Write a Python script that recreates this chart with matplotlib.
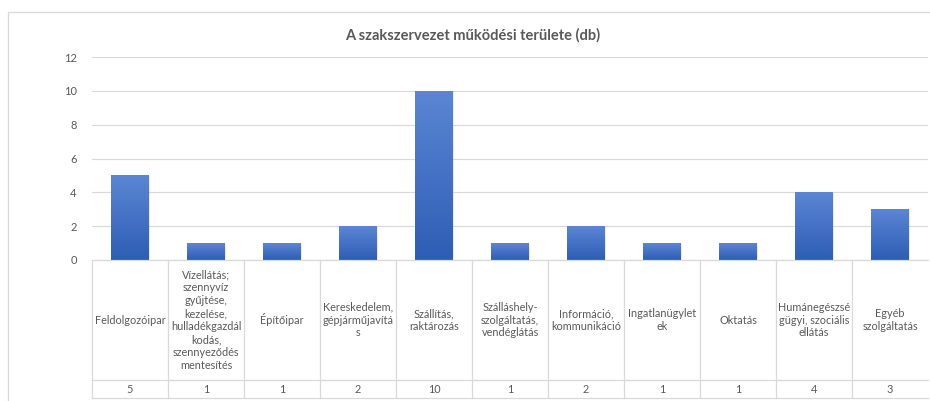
import numpy as np
import matplotlib
matplotlib.use("Agg")
import matplotlib.pyplot as plt
from matplotlib.colors import LinearSegmentedColormap
from matplotlib.patches import Rectangle

plt.rcParams['font.family'] = ['Lato', 'DejaVu Sans']

title = "A szakszervezet működési területe (db)"
categories = [
    "Feldolgozóipar",
    "Vízellátás;\nszennyvíz\ngyűjtése,\nkezelése,\nhulladékgazdál\nkodás,\nszennyeződés\nmentesítés",
    "Építőipar",
    "Kereskedelem,\ngépjárműjavítá\ns",
    "Szállítás,\nraktározás",
    "Szálláshely-\nszolgáltatás,\nvendéglátás",
    "Információ,\nkommunikáció",
    "Ingatlanügylet\nek",
    "Oktatás",
    "Humánegészsé\ngügyi, szociális\nellátás",
    "Egyéb\nszolgáltatás",
]
values = [5, 1, 1, 2, 10, 1, 2, 1, 1, 4, 3]
yticks = [0, 2, 4, 6, 8, 10, 12]

W, H = 930, 401
fig = plt.figure(figsize=(W / 100, H / 100), dpi=100)
fig.patch.set_facecolor('white')

def fx(px):
    return px / W

def fy(py):
    return 1 - py / H

# outer chart frame
fig.add_artist(Rectangle((fx(8), fy(440)), fx(960) - fx(8), fy(12) - fy(440),
                         transform=fig.transFigure, fill=False,
                         edgecolor='#D9D9D9', linewidth=0.9))

left, right = 92, 928
top, base = 57, 260
ax = fig.add_axes([fx(left), fy(base), fx(right) - fx(left), fy(top) - fy(base)])
n = len(values)
x = np.arange(n)
ax.set_xlim(-0.5, n - 0.5)
ax.set_ylim(0, 12)
for s in ax.spines.values():
    s.set_visible(False)
ax.set_yticks(yticks)
ax.set_yticklabels([str(t) for t in yticks], color='#595959', fontsize=8)
ax.tick_params(axis='y', length=0, pad=11)
ax.set_xticks([])
ax.grid(axis='y', color='#D9D9D9', linewidth=0.8)
ax.set_axisbelow(True)

cmap = LinearSegmentedColormap.from_list('g', ['#2E5DB5', '#5B86D4'])
grad = np.linspace(0, 1, 256).reshape(-1, 1)
bars = ax.bar(x, values, width=0.5, color='#3F6FC6', zorder=2, linewidth=0)
for b in bars:
    x0, w, h = b.get_x(), b.get_width(), b.get_height()
    # subtle shadow
    ax.add_patch(Rectangle((x0 + 0.012, 0), w, h - 0.03, facecolor='#000000',
                           alpha=0.07, zorder=1.5, linewidth=0))
    im = ax.imshow(grad, cmap=cmap, origin='lower', aspect='auto',
                   extent=(x0, x0 + w, 0, h), zorder=2.5)
    im.set_clip_path(b)

# data table
tbl_top, hdr_bot, tbl_bot = 260, 380, 398
tax = fig.add_axes([fx(left), fy(tbl_bot), fx(right) - fx(left), fy(tbl_top) - fy(tbl_bot)])
tax.set_xlim(-0.5, n - 0.5)
tax.set_ylim(tbl_bot, tbl_top)
tax.axis('off')
lc = '#D9D9D9'
tax.plot([-0.5, n - 0.5], [tbl_top, tbl_top], color=lc, lw=0.9, clip_on=False)
tax.plot([-0.5, n - 0.5], [hdr_bot, hdr_bot], color=lc, lw=0.9, clip_on=False)
tax.plot([-0.5, n - 0.5], [tbl_bot, tbl_bot], color=lc, lw=0.9, clip_on=False)
for i in range(n):
    tax.plot([i - 0.5, i - 0.5], [tbl_top, tbl_bot], color=lc, lw=0.9, clip_on=False)
    tax.text(i, (tbl_top + hdr_bot) / 2, categories[i], ha='center', va='center',
             fontsize=7.8, color='#595959', linespacing=1.22)
    tax.text(i, (hdr_bot + tbl_bot) / 2 + 0.5, str(values[i]), ha='center', va='center',
             fontsize=7.8, color='#595959')

fig.text(fx(473), fy(35), title, ha='center', va='center', fontsize=10.5,
         fontweight='bold', color='#595959')

fig.savefig('out.png', dpi=100)
